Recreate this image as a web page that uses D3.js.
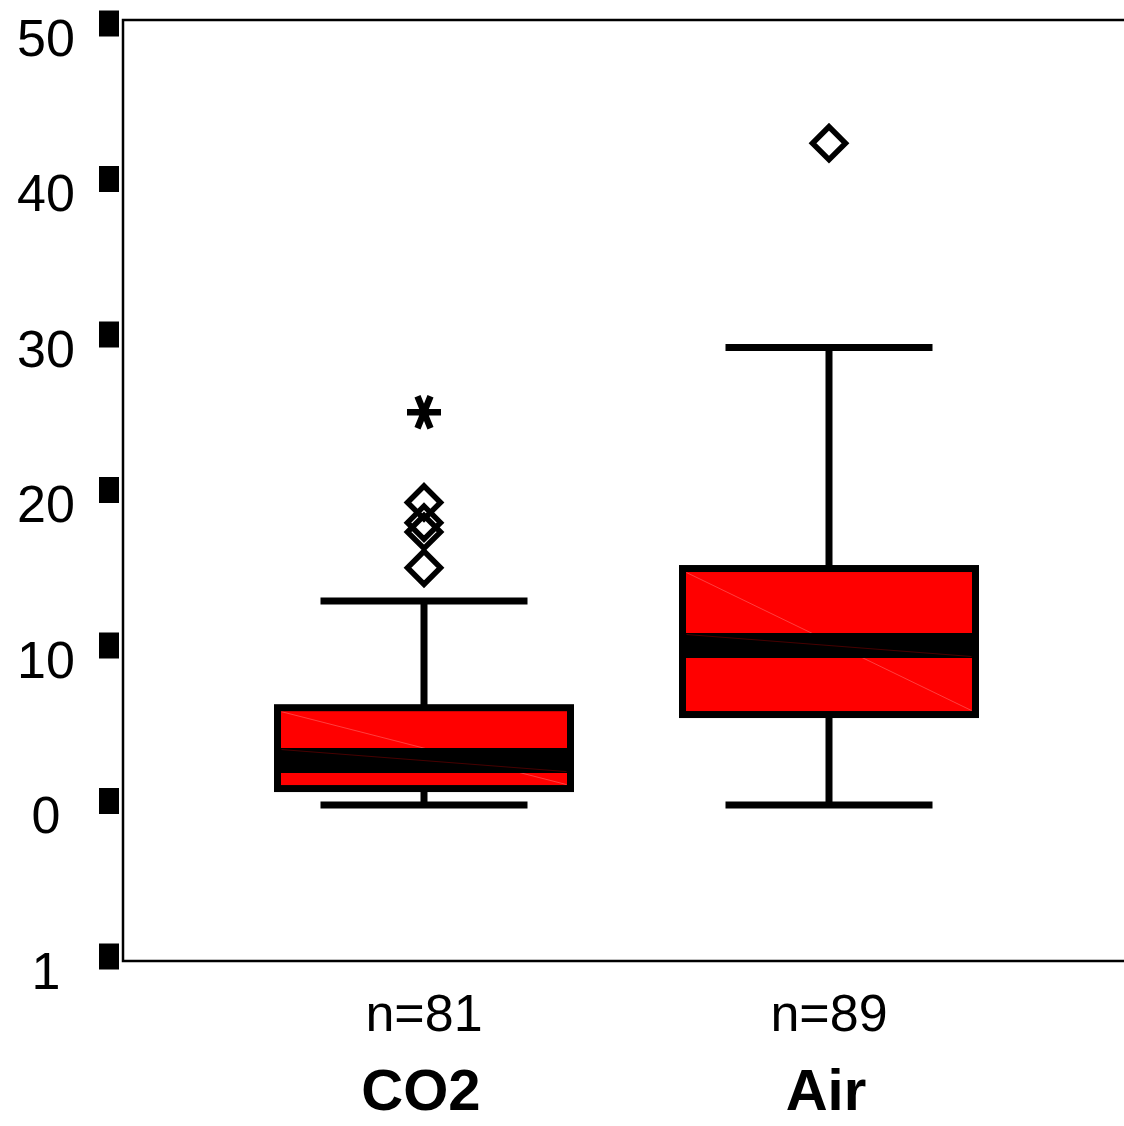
<!DOCTYPE html>
<html>
<head>
<meta charset="utf-8">
<script src="https://cdn.jsdelivr.net/npm/d3@7"></script>
<style>
  body { margin: 0; background: #fff; }
  svg { display: block; }
  text { font-family: "Liberation Sans", Arial, Helvetica, sans-serif; fill: #000; }
</style>
</head>
<body>
<div id="chart"></div>
<script>
// box plot data
var groups = ["CO2", "Air"];
var counts = [81, 89];
var whiskLow = [-0.25, -0.25];
var q1 = [0.8, 5.56];
var medians = [2.6, 10.0];
var q3 = [6.0, 14.95];
var whiskHigh = [12.86, 29.16];
var outliers = [[19.2, 17.9, 17.3, 15.0], [42.3]];
var extremes = [[25.0], []];

var tickValues = [50, 40, 30, 20, 10, 0, -10];
var tickLabels = ["50", "40", "30", "20", "10", "0", "1"];

var W = 1124, H = 1126;
var frameL = 123, frameT = 20, frameB = 961;

var svg = d3.select('#chart')
    .append('svg')
    .attr('width', W)
    .attr('height', H);

var y = d3.scaleLinear().domain([-10, 50]).range([956.5, 23.5]);
var x = d3.scaleBand().domain(groups).range([221.5, 1031.5]).paddingInner(0);

var data = groups.map(function(g, i) {
    return {
        name: g, n: counts[i], lo: whiskLow[i], q1: q1[i], med: medians[i],
        q3: q3[i], hi: whiskHigh[i], out: outliers[i], ext: extremes[i],
        cx: x(g) + x.bandwidth() / 2
    };
});

// frame (left + top + bottom)
svg.append('path')
    .attr('d', 'M' + W + ',' + frameT + 'H' + frameL + 'V' + frameB + 'H' + W)
    .attr('fill', 'none')
    .attr('stroke', '#000')
    .attr('stroke-width', 2.5);

// y ticks: little black squares plus labels
var ticks = svg.append('g').attr('class', 'yticks');
ticks.selectAll('rect')
    .data(tickValues)
    .enter()
    .append('rect')
    .attr('x', 99)
    .attr('y', function(d) { return y(d) - 13; })
    .attr('width', 20)
    .attr('height', 26)
    .attr('fill', '#000');

ticks.selectAll('text')
    .data(tickValues)
    .enter()
    .append('text')
    .attr('x', 46)
    .attr('y', function(d) { return y(d) + 32; })
    .attr('text-anchor', 'middle')
    .style('font-size', '52px')
    .text(function(d, i) { return tickLabels[i]; });

var boxW = 293, capW = 207;

var g = svg.selectAll('g.box')
    .data(data)
    .enter()
    .append('g')
    .attr('class', 'box');

// whiskers
g.append('line')
    .attr('x1', function(d) { return d.cx; })
    .attr('x2', function(d) { return d.cx; })
    .attr('y1', function(d) { return y(d.lo); })
    .attr('y2', function(d) { return y(d.hi); })
    .attr('stroke', '#000')
    .attr('stroke-width', 7);

['lo', 'hi'].forEach(function(k) {
    g.append('line')
        .attr('x1', function(d) { return d.cx - capW / 2; })
        .attr('x2', function(d) { return d.cx + capW / 2; })
        .attr('y1', function(d) { return y(d[k]); })
        .attr('y2', function(d) { return y(d[k]); })
        .attr('stroke', '#000')
        .attr('stroke-width', 7);
});

// box fill
g.append('rect')
    .attr('x', function(d) { return d.cx - boxW / 2; })
    .attr('y', function(d) { return y(d.q3); })
    .attr('width', boxW)
    .attr('height', function(d) { return y(d.q1) - y(d.q3); })
    .attr('fill', '#ff0000');

// faint diagonal seam inside the box
g.append('line')
    .attr('x1', function(d) { return d.cx - boxW / 2 + 4; })
    .attr('y1', function(d) { return y(d.q3) + 4; })
    .attr('x2', function(d) { return d.cx + boxW / 2 - 4; })
    .attr('y2', function(d) { return y(d.q1) - 4; })
    .attr('stroke', '#ff7070')
    .attr('stroke-width', 0.8)
    .attr('opacity', 0.7);

// median band
g.append('line')
    .attr('x1', function(d) { return d.cx - boxW / 2; })
    .attr('x2', function(d) { return d.cx + boxW / 2; })
    .attr('y1', function(d) { return y(d.med); })
    .attr('y2', function(d) { return y(d.med); })
    .attr('stroke', '#000')
    .attr('stroke-width', 25);

g.append('line')
    .attr('x1', function(d) { return d.cx - boxW / 2 + 4; })
    .attr('y1', function(d) { return y(d.med) - 11; })
    .attr('x2', function(d) { return d.cx + boxW / 2 - 4; })
    .attr('y2', function(d) { return y(d.med) + 11; })
    .attr('stroke', '#700000')
    .attr('stroke-width', 0.8)
    .attr('opacity', 0.8);

// box outline
g.append('rect')
    .attr('x', function(d) { return d.cx - boxW / 2; })
    .attr('y', function(d) { return y(d.q3); })
    .attr('width', boxW)
    .attr('height', function(d) { return y(d.q1) - y(d.q3); })
    .attr('fill', 'none')
    .attr('stroke', '#000')
    .attr('stroke-width', 7);

// outliers (diamonds)
var dh = 16.5;
g.selectAll('path.out')
    .data(function(d) { return d.out.map(function(v) { return { cx: d.cx, v: v }; }); })
    .enter()
    .append('path')
    .attr('class', 'out')
    .attr('d', function(d) {
        var cy = y(d.v);
        return 'M' + d.cx + ',' + (cy - dh) + 'L' + (d.cx + dh) + ',' + cy +
            'L' + d.cx + ',' + (cy + dh) + 'L' + (d.cx - dh) + ',' + cy + 'Z';
    })
    .attr('fill', 'none')
    .attr('stroke', '#000')
    .attr('stroke-width', 5.5);

// extremes (asterisks)
g.selectAll('path.ext')
    .data(function(d) { return d.ext.map(function(v) { return { cx: d.cx, v: v }; }); })
    .enter()
    .append('path')
    .attr('class', 'ext')
    .attr('d', function(d) {
        var cx = d.cx, cy = y(d.v);
        return 'M' + (cx - 17) + ',' + cy + 'H' + (cx + 17) +
            'M' + (cx - 6.5) + ',' + (cy - 16) + 'L' + (cx + 6.5) + ',' + (cy + 16) +
            'M' + (cx + 6.5) + ',' + (cy - 16) + 'L' + (cx - 6.5) + ',' + (cy + 16);
    })
    .attr('fill', 'none')
    .attr('stroke', '#000')
    .attr('stroke-width', 6.5);

// n labels and category labels
g.append('text')
    .attr('x', function(d) { return d.cx; })
    .attr('y', 1031)
    .attr('text-anchor', 'middle')
    .style('font-size', '52px')
    .text(function(d) { return 'n=' + d.n; });

g.append('text')
    .attr('x', function(d) { return d.cx - 3; })
    .attr('y', 1110)
    .attr('text-anchor', 'middle')
    .style('font-size', '58px')
    .style('font-weight', 'bold')
    .text(function(d) { return d.name; });
</script>
</body>
</html>
